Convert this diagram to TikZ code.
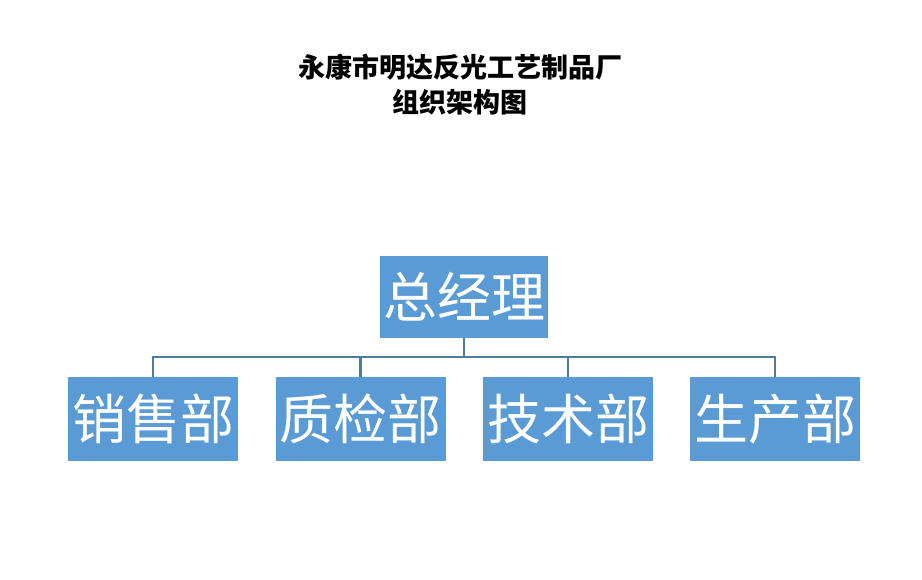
\documentclass[tikz,border=0pt]{standalone}
\usepackage{fontspec}
\newfontfamily\cjk{Noto Sans CJK SC}
\definecolor{boxblue}{HTML}{5B9BD5}
\definecolor{linkblue}{HTML}{4E7A9B}
\begin{document}
\begin{tikzpicture}[x=1pt, y=-1pt,
	dept/.style={rectangle, fill=boxblue, text=white, inner sep=0pt,
		minimum width=170pt, minimum height=84pt, font=\cjk\fontsize{54}{54}\selectfont},
	link/.style={draw=linkblue, line width=2.2pt}]
	\useasboundingbox (0,0) rectangle (922,580);
	\node[font=\cjk\bfseries\fontsize{27}{35}\selectfont, align=center] (title) at (460,85)
		{永康市明达反光工艺制品厂\\组织架构图};
	\node[dept, minimum width=168pt, minimum height=82pt] (gm) at (464,297) {总经理};
	\coordinate (bus) at (464,357);
	\draw[link] (gm.south) -- (bus);
	\foreach \name/\x/\txt in {sales/153/销售部, qc/360.5/质检部, tech/568/技术部, prod/775/生产部} {
		\node[dept] (\name) at (\x,419) {\txt};
		\draw[link] (\name.north) |- (bus);
	}
\end{tikzpicture}
\end{document}
